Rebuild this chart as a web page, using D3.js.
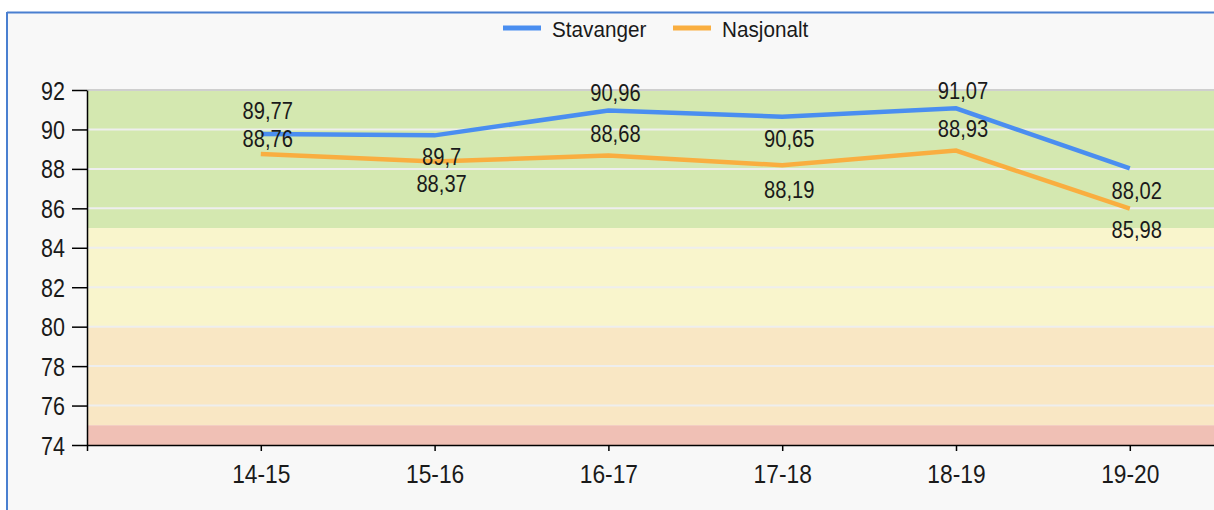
<!DOCTYPE html>
<html>
<head>
<meta charset="utf-8">
<script src="https://cdn.jsdelivr.net/npm/d3@7"></script>
<style>
  html, body { margin: 0; padding: 0; background: #fff; }
  svg { display: block; }
  text { font-family: "Liberation Sans", Arial, sans-serif; fill: #1a1a1a; }
</style>
</head>
<body>
<svg width="1214" height="510"></svg>
<script>
// values
var categories = ["14-15", "15-16", "16-17", "17-18", "18-19", "19-20"];
var stavanger = [89.77, 89.7, 90.96, 90.65, 91.07, 88.02];
var nasjonalt = [88.76, 88.37, 88.68, 88.19, 88.93, 85.98];
var yTicks = [74, 76, 78, 80, 82, 84, 86, 88, 90, 92];

// colour bands behind the plot
var bandFrom = [85, 80, 75, 74];
var bandTo = [92, 85, 80, 75];
var bandColor = ["#d4e8b0", "#f9f5cc", "#f9e7c4", "#f0c0b5"];

// where the value labels sit relative to each point (px)
var labelDyS = [-24, 21, -18, 22, -18, 22];
var labelDyN = [-16, 22, -22, 24, -22, 21];

var svg = d3.select("svg"),
    width = +svg.attr("width"),
    height = +svg.attr("height");

var plotLeft = 87, plotTop = 90, plotBottom = 445, step = 173.8;

// frame
svg.append("rect").attr("x", 7).attr("y", 12).attr("width", width).attr("height", height)
    .attr("fill", "#f8f8f8");
svg.append("line").attr("x1", 7).attr("x2", width).attr("y1", 12.5).attr("y2", 12.5)
    .attr("stroke", "#4a7fd0").attr("stroke-width", 2);
svg.append("line").attr("x1", 7).attr("x2", 7).attr("y1", 12).attr("y2", height)
    .attr("stroke", "#4a7fd0").attr("stroke-width", 2);

var x = d3.scaleLinear().domain([0, 7]).range([plotLeft, plotLeft + 7 * step]);
var y = d3.scaleLinear().domain([74, 92]).range([plotBottom, plotTop]);

// bands
svg.append("g").selectAll("rect")
    .data(bandFrom)
    .enter().append("rect")
      .attr("x", plotLeft)
      .attr("width", width - plotLeft)
      .attr("y", function(d, i) { return y(bandTo[i]); })
      .attr("height", function(d, i) { return y(d) - y(bandTo[i]); })
      .attr("fill", function(d, i) { return bandColor[i]; });

// grid
svg.append("g").selectAll("line")
    .data(yTicks.slice(1))
    .enter().append("line")
      .attr("x1", plotLeft).attr("x2", width)
      .attr("y1", function(d) { return y(d); })
      .attr("y2", function(d) { return y(d); })
      .attr("stroke", function(d) { return d == 92 ? "#cfcfcf" : "#eeeeee"; })
      .attr("stroke-width", 2);

// y axis
var yAxis = svg.append("g")
    .attr("transform", "translate(" + plotLeft + ",0)")
    .call(d3.axisLeft(y).tickValues(yTicks).tickSize(15).tickPadding(0).tickSizeOuter(0));
yAxis.select(".domain").attr("stroke", "#000").attr("stroke-width", 1.5);
yAxis.selectAll(".tick line").attr("stroke", "#000").attr("stroke-width", 1.5);
yAxis.selectAll(".tick text")
    .attr("x", 0).attr("dy", "0.36em")
    .attr("transform", "translate(-22,0) scale(0.86,1)")
    .style("font-size", "25px").style("font-family", "Liberation Sans, Arial, sans-serif")
    .attr("fill", "#1a1a1a");

// x axis
var xAxis = svg.append("g")
    .attr("transform", "translate(0," + plotBottom + ")")
    .call(d3.axisBottom(x).tickValues(d3.range(0, 7)).tickSize(6).tickSizeOuter(0)
      .tickFormat(function(d) { return d == 0 ? "" : categories[d - 1]; }));
xAxis.select(".domain").attr("stroke", "#000").attr("stroke-width", 1.5);
xAxis.selectAll(".tick line").attr("stroke", "#000").attr("stroke-width", 1.5);
xAxis.selectAll(".tick text")
    .attr("y", 0).attr("dy", 0)
    .attr("transform", "translate(0,38) scale(0.86,1)")
    .style("font-size", "26.5px").style("font-family", "Liberation Sans, Arial, sans-serif")
    .attr("fill", "#1a1a1a");

// lines
var line = d3.line()
    .x(function(d, i) { return x(i + 1); })
    .y(function(d) { return y(d); });

svg.append("path").datum(nasjonalt)
    .attr("d", line).attr("fill", "none")
    .attr("stroke", "#f9ae40").attr("stroke-width", 4.5);
svg.append("path").datum(stavanger)
    .attr("d", line).attr("fill", "none")
    .attr("stroke", "#4a8ef0").attr("stroke-width", 4.5);

function fmt(v) { return String(v).replace(".", ","); }

function labels(data, dys) {
  svg.append("g").selectAll("text")
    .data(data)
    .enter().append("text")
      .attr("transform", function(d, i) {
        return "translate(" + (x(i + 1) + 7) + "," + (y(d) + dys[i]) + ") scale(0.84,1)";
      })
      .attr("text-anchor", "middle")
      .attr("dy", "0.36em")
      .style("font-size", "24px")
      .text(fmt);
}
labels(stavanger, labelDyS);
labels(nasjonalt, labelDyN);

// legend
var legendNames = ["Stavanger", "Nasjonalt"];
var legendColor = ["#4a8ef0", "#f9ae40"];
var legendX = [503, 673];
var lg = svg.append("g").selectAll("g")
    .data(legendNames)
    .enter().append("g")
      .attr("transform", function(d, i) { return "translate(" + legendX[i] + ",28)"; });
lg.append("line").attr("x1", 0).attr("x2", 38)
    .attr("stroke", function(d, i) { return legendColor[i]; })
    .attr("stroke-width", 5);
lg.append("text")
    .attr("transform", "translate(49,8.5) scale(0.92,1)")
    .style("font-size", "22.5px")
    .text(function(d) { return d; });
</script>
</body>
</html>
